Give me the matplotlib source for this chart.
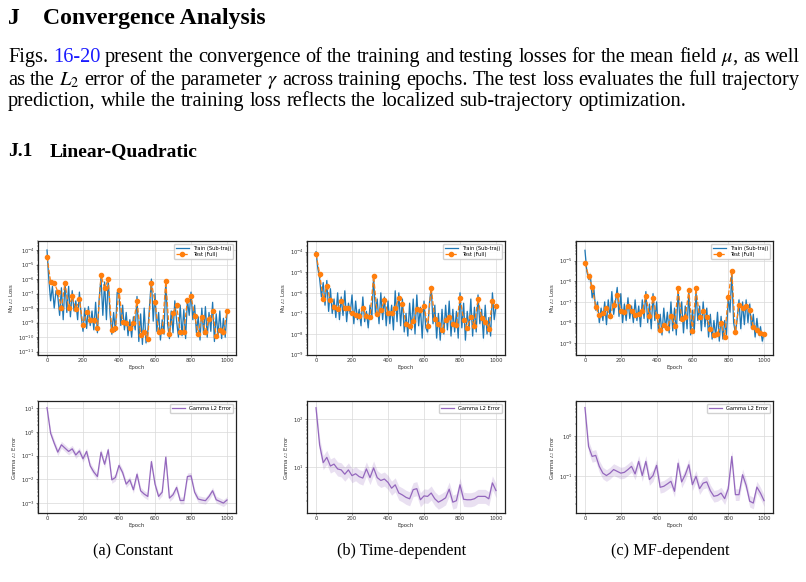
import numpy as np
import matplotlib
matplotlib.use("Agg")
import matplotlib.pyplot as plt
from matplotlib.transforms import IdentityTransform

# ---------------- data (log10 values) ----------------
epochs_train = np.arange(0, 1001, 10)
epochs_eval = np.arange(0, 1001, 20)

train_const = [-4.0, -6.0, -7.5, -6.5, -8.0, -6.8, -7.2, -8.5, -6.6, -8.8,
               -6.2, -8.3, -6.5, -8.6, -6.8, -8.2, -7.5, -8.8, -6.9, -8.6,
               -9.6, -8.0, -9.4, -7.9, -9.2, -8.2, -9.5, -7.6, -9.7, -7.3,
               -5.9, -8.5, -6.2, -8.8, -6.0, -8.4, -9.8, -8.3, -9.6, -6.9,
               -7.0, -9.2, -7.8, -9.5, -8.3, -9.9, -8.8, -10.0, -8.6, -9.5,
               -7.2, -10.3, -8.4, -10.5, -8.0, -10.4, -9.6, -7.8, -6.0, -8.9,
               -7.0, -9.6, -8.3, -10.2, -8.8, -9.8, -6.1, -9.1, -10.1, -8.2,
               -9.7, -7.5, -8.9, -10.0, -7.8, -9.9, -8.1, -10.1, -7.4, -8.5,
               -6.9, -8.8, -7.8, -9.7, -8.6, -10.2, -8.0, -9.8, -7.9, -10.0,
               -8.3, -9.6, -7.6, -10.3, -8.4, -9.9, -8.2, -10.1, -8.7, -10.0,
               -8.3]
test_const = [-4.46, -6.18, -6.25, -6.87, -7.98, -6.25, -8.0, -7.2, -8.07, -7.4,
              -9.17, -8.3, -8.8, -8.83, -9.4, -5.72, -6.64, -6.0, -9.52, -9.4,
              -6.76, -8.94, -9.06, -9.4, -9.06, -7.52, -9.82, -9.68, -10.1, -6.25,
              -7.56, -9.63, -9.6, -6.14, -9.75, -8.37, -7.8, -9.63, -9.63, -7.45,
              -7.17, -8.53, -9.75, -8.6, -9.63, -8.76, -8.2, -9.9, -9.52, -9.68,
              -8.2]

train_time = [-4.0, -4.8, -5.3, -6.2, -5.5, -6.6, -5.4, -6.9, -5.8, -7.0,
              -6.3, -7.2, -6.0, -7.3, -6.2, -7.1, -5.9, -7.4, -6.5, -7.0,
              -6.1, -7.5, -6.4, -7.3, -6.8, -7.6, -6.2, -7.4, -6.9, -7.7,
              -6.6, -7.2, -5.2, -7.0, -6.3, -7.5, -6.0, -7.3, -6.2, -7.6,
              -6.4, -7.5, -6.6, -7.8, -5.9, -7.4, -6.0, -7.6, -6.3, -7.9,
              -7.0, -8.1, -6.5, -7.8, -6.3, -8.0, -6.1, -7.6, -6.7, -8.2,
              -6.4, -7.7, -7.9, -6.5, -5.7, -7.5, -6.6, -8.2, -7.0, -8.3,
              -6.8, -8.0, -6.6, -7.8, -6.4, -8.1, -6.8, -7.9, -6.9, -8.2,
              -6.0, -7.7, -6.5, -8.3, -6.9, -7.8, -6.3, -8.1, -6.7, -7.9,
              -6.1, -7.5, -6.8, -8.2, -6.6, -8.0, -7.2, -8.1, -6.0, -7.3,
              -6.6]
test_time = [-4.11, -5.06, -6.31, -5.66, -6.36, -6.68, -6.8, -6.39, -6.73, -6.73,
             -6.98, -7.09, -7.12, -6.73, -7.12, -7.17, -5.17, -7.04, -6.85, -6.36,
             -7.0, -7.0, -6.73, -6.24, -6.55, -7.53, -7.61, -7.37, -6.8, -6.85,
             -6.65, -7.61, -5.76, -7.25, -7.53, -7.82, -7.3, -7.17, -7.5, -7.54,
             -6.24, -7.3, -7.7, -7.17, -7.61, -6.28, -7.22, -7.41, -7.74, -6.39,
             -6.65]

train_mf = [-4.5, -5.5, -5.9, -5.7, -6.8, -6.4, -7.4, -7.0, -8.0, -7.3,
            -7.9, -7.0, -8.1, -6.9, -7.8, -6.5, -7.6, -7.0, -6.3, -7.7,
            -6.6, -8.0, -7.1, -7.9, -6.8, -7.8, -7.2, -8.0, -6.9, -7.9,
            -7.2, -8.2, -6.9, -7.8, -6.5, -8.0, -7.1, -8.3, -6.6, -7.9,
            -7.0, -8.4, -7.6, -8.6, -7.3, -8.3, -7.5, -8.5, -7.0, -8.4,
            -7.3, -8.6, -6.4, -7.9, -7.0, -8.5, -7.2, -8.3, -6.5, -8.6,
            -7.4, -8.5, -6.5, -7.9, -7.2, -8.4, -7.0, -8.2, -7.3, -8.7,
            -7.6, -8.8, -7.9, -8.7, -7.5, -8.9, -7.7, -8.8, -7.9, -8.6,
            -6.8, -7.5, -5.6, -8.0, -8.5, -7.8, -6.9, -8.3, -7.0, -8.1,
            -6.9, -8.0, -7.1, -8.3, -7.6, -8.7, -7.8, -8.6, -8.2, -8.9,
            -8.5]
test_mf = [-5.11, -5.73, -6.26, -7.23, -7.64, -7.56, -7.27, -7.67, -7.14, -6.65,
           -7.43, -7.51, -7.22, -7.43, -7.64, -7.59, -7.46, -6.7, -7.67, -6.81,
           -7.67, -8.37, -8.11, -8.27, -7.67, -8.16, -6.34, -7.83, -7.75, -6.43,
           -8.4, -6.33, -7.75, -7.46, -7.75, -8.32, -8.6, -8.53, -8.04, -8.69,
           -6.75, -5.49, -8.45, -7.14, -7.27, -7.19, -7.4, -8.21, -8.35, -8.51,
           -8.56]

gamma_const = [1.03, -0.05, -0.47, -0.85, -0.54, -0.68, -0.82, -0.71, -0.97, -0.8,
               -1.13, -0.82, -1.43, -1.69, -1.88, -0.85, -1.36, -0.75, -2.02, -1.92,
               -1.41, -1.71, -2.2, -2.02, -2.44, -1.78, -2.48, -2.62, -2.72, -1.25,
               -2.2, -2.72, -2.54, -1.06, -2.79, -2.65, -2.34, -2.89, -2.89, -1.88,
               -1.85, -2.54, -2.83, -2.87, -2.9, -2.72, -2.48, -2.86, -2.93, -3.0,
               -2.87]
gamma_time = [2.24, 1.47, 1.10, 1.21, 1.03, 1.07, 0.97, 0.95, 0.86, 0.95,
              0.83, 0.87, 0.81, 0.78, 0.97, 0.79, 0.99, 0.79, 0.73, 0.76,
              0.69, 0.57, 0.64, 0.47, 0.43, 0.38, 0.35, 0.54, 0.56, 0.33,
              0.41, 0.40, 0.47, 0.35, 0.28, 0.32, 0.37, 0.55, 0.28, 0.31,
              0.64, 0.34, 0.33, 0.33, 0.35, 0.40, 0.40, 0.40, 0.35, 0.68,
              0.52]
gamma_mf = [0.725, -0.25, -0.5, -0.475, -0.75, -0.92, -0.98, -0.92, -0.83, -0.875,
            -0.92, -0.9, -0.83, -0.75, -0.94, -0.625, -0.98, -0.625, -1.08, -0.98,
            -0.725, -1.275, -1.25, -1.19, -1.125, -1.375, -0.67, -1.14, -0.96, -0.71,
            -1.21, -1.0, -1.31, -1.17, -1.14, -1.36, -1.5, -1.48, -1.42, -1.56,
            -1.31, -0.5, -1.46, -1.46, -0.96, -1.225, -1.625, -1.67, -1.27, -1.42,
            -1.61]

captions = ["(a) Constant", "(b) Time-dependent", "(c) MF-dependent"]
loss_ylims = [(-11.23, -3.38), (-9.02, -3.48), (-9.57, -4.05)]
gamma_ylims = [(-3.42, 1.31), (0.055, 2.38), (-1.92, 0.89)]

# ---------------- figure ----------------
W, H = 806, 582
fig = plt.figure(figsize=(W / 100, H / 100), dpi=100)
fig.patch.set_facecolor("white")
plt.rcParams["mathtext.fontset"] = "stix"
serif = "Liberation Serif"


def px_axes(left, top, right, bottom):
    return fig.add_axes([left / W, 1 - bottom / H, (right - left) / W, (bottom - top) / H])


def style_axes(ax):
    ax.grid(True, color="#d9d9d9", linewidth=0.5)
    ax.set_axisbelow(True)
    for sp in ax.spines.values():
        sp.set_linewidth(0.9)
        sp.set_color("#222222")
    ax.tick_params(labelsize=3.8, length=1.5, width=0.4, pad=1, colors="#333333")
    ax.tick_params(which="minor", length=0.8, width=0.3)
    ax.set_xticks([0, 200, 400, 600, 800, 1000])
    ax.set_xlabel("Epoch", fontsize=3.9, labelpad=1, color="#333333")


col_left = [38, 307, 576]
col_right = [236, 505, 773]

loss_sets = [(train_const, test_const), (train_time, test_time), (train_mf, test_mf)]
for i, (tr, te) in enumerate(loss_sets):
    ax = px_axes(col_left[i], 241, col_right[i], 355)
    tr = 10 ** np.array(tr)
    te = 10 ** np.array(te)
    ax.fill_between(epochs_train, tr / 1.5, tr * 1.5, color="#1f77b4", alpha=0.2, linewidth=0)
    ax.plot(epochs_train, tr, color="#1f77b4", linewidth=0.9, label="Train (Sub-traj)")
    ax.plot(epochs_eval, te, color="#ff7f0e", linewidth=0.9, linestyle="--",
            marker="o", markersize=3.0, label="Test (Full)")
    ax.set_yscale("log")
    ax.set_ylim(10 ** loss_ylims[i][0], 10 ** loss_ylims[i][1])
    style_axes(ax)
    ax.set_ylabel("Mu $L_2$ Loss", fontsize=3.9, labelpad=1.5, color="#333333")
    ax.legend(loc="upper right", fontsize=3.7, frameon=True, borderpad=0.4,
              handlelength=2.6, labelspacing=0.3, framealpha=0.9, edgecolor="#cccccc")

gamma_sets = [gamma_const, gamma_time, gamma_mf]
for i, g in enumerate(gamma_sets):
    ax = px_axes(col_left[i], 401, col_right[i], 513)
    g = 10 ** np.array(g)
    ax.fill_between(epochs_eval, g / 1.4, g * 1.4, color="#9467bd", alpha=0.2, linewidth=0)
    ax.plot(epochs_eval, g, color="#9467bd", linewidth=0.9, label="Gamma L2 Error")
    ax.set_yscale("log")
    ax.set_ylim(10 ** gamma_ylims[i][0], 10 ** gamma_ylims[i][1])
    style_axes(ax)
    ax.set_ylabel("Gamma $L_2$ Error", fontsize=3.9, labelpad=1.5, color="#333333")
    ax.legend(loc="upper right", fontsize=3.7, frameon=True, borderpad=0.4,
              handlelength=2.6, framealpha=0.9, edgecolor="#cccccc")

# ---------------- page text ----------------
renderer = fig.canvas.get_renderer()
ident = IdentityTransform()


def put(x, y, s, **kw):
    return fig.text(x, H - y, s, transform=ident, va="baseline", family=serif, **kw)


def put_line(tokens, x0, y, width, size, justify=True):
    objs = [put(0, y, w, color=c, fontsize=size) for w, c in tokens]
    widths = [o.get_window_extent(renderer).width for o in objs]
    gap = size * 100 / 72 * 0.25
    if justify and len(objs) > 1:
        gap = (width - sum(widths)) / (len(objs) - 1)
    x = x0
    for o, w in zip(objs, widths):
        o.set_x(x)
        x += w + gap


put(8, 24, "J", fontsize=17.1, weight="bold")
put(43, 24, "Convergence Analysis", fontsize=17.1, weight="bold")

blue = "#1a1aff"
line1 = ("Figs.|16-20|present the convergence of the training and testing losses "
         "for the mean field $\\mu$, as well")
words1 = [("Figs.", "black"), ("16-20", blue)] + [(w, "black") for w in line1.split("|")[2].split(" ")]
line2 = "as the $L_2$ error of the parameter $\\gamma$ across training epochs. The test loss evaluates the full trajectory"
line3 = "prediction, while the training loss reflects the localized sub-trajectory optimization."
para_size = 14.7
put_line(words1, 8, 62, 792, para_size)
put_line([(w, "black") for w in line2.split(" ")], 8, 85, 792, para_size)
put_line([(w, "black") for w in line3.split(" ")], 8, 106, 792, para_size, justify=False)

put(8, 156, "J.1", fontsize=14.0, weight="bold")
put(50, 156, "Linear-Quadratic", fontsize=14.0, weight="bold")

for i, cap in enumerate(captions):
    fig.text((col_left[i] + col_right[i]) / 2 - 4, H - 555, cap, transform=ident,
             ha="center", va="baseline", family=serif, fontsize=11.7)

fig.savefig("out.png", dpi=100, facecolor="white")
